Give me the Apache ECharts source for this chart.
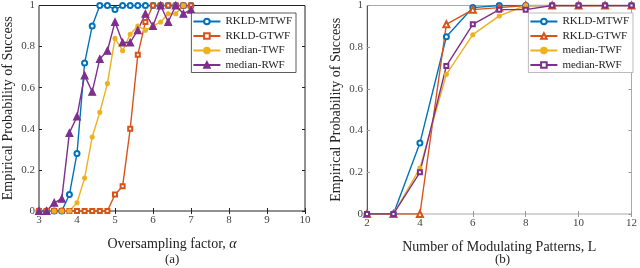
<!DOCTYPE html>
<html><head><meta charset="utf-8">
<script src="https://cdn.jsdelivr.net/npm/echarts@6/dist/echarts.min.js"></script>
<style>html,body{margin:0;padding:0;background:#fff}#c{width:640px;height:268px}</style>
</head><body><div id="c"></div>
<script>
// Panel (a)
const alphaX = [3,3.2,3.4,3.6,3.8,4,4.2,4.4,4.6,4.8,5,5.2,5.4,5.6,5.8,6,6.2,6.4,6.6,6.8,7];
const aMTWF = [0,0,0,0,0.08,0.28,0.72,0.9,1,1,0.98,1,1,1,1,1,1,1,1,1,1];
const aGTWF = [0,0,0,0,0,0,0,0,0,0,0.08,0.12,0.4,0.76,0.92,1,1,1,1,1,1];
const aTWF  = [0,0,0,0,0,0.04,0.16,0.36,0.48,0.62,0.84,0.78,0.86,0.9,0.88,0.9,0.92,0.96,0.96,1,0.98];
const aRWF  = [0,0,0.04,0.06,0.38,0.46,0.66,0.58,0.74,0.78,0.92,0.82,0.82,0.88,0.96,0.9,1,0.92,1,0.96,0.98];
// Panel (b)
const LX = [2,3,4,5,6,7,8,9,10,11,12];
const bMTWF = [0,0,0.34,0.85,0.99,1,1,1,1,1,1];
const bGTWF = [0,0,0,0.91,0.98,0.99,1,1,1,1,1];
const bTWF  = [0,0,0.22,0.67,0.86,0.95,1,1,1,1,1];
const bRWF  = [0,0,0.2,0.71,0.91,0.98,0.98,1,1,1,1];
const names = ['RKLD-MTWF','RKLD-GTWF','median-TWF','median-RWF'];

const C = ['#0072BD','#D95319','#EDB120','#7E2F8E'];
const F = '"Liberation Serif", "Times New Roman", serif';
const zip = (xs, ys) => xs.map((x,i)=>[x, ys[i]]);

function mk(name, xi, data, color, symbol, size){
  return {name, type:'line', xAxisIndex:xi, yAxisIndex:xi, data, symbol, symbolSize:size,
    showSymbol:true, lineStyle:{color, width:1.4}, itemStyle:{color, borderColor:color, borderWidth:1.1},
    animation:false, z:3};
}
const series = [
  mk(names[0],0,zip(alphaX,aMTWF),C[0],'emptyCircle',5),
  mk(names[1],0,zip(alphaX,aGTWF),C[1],'emptyRect',4),
  mk(names[2],0,zip(alphaX,aTWF),C[2],'circle',4),
  mk(names[3],0,zip(alphaX,aRWF),C[3],'triangle',7),
  mk('b:'+names[0],2,zip(LX,bMTWF),C[0],'emptyCircle',5),
  mk('b:'+names[1],2,zip(LX,bGTWF),C[1],'emptyTriangle',6),
  mk('b:'+names[2],2,zip(LX,bTWF),C[2],'circle',4),
  mk('b:'+names[3],2,zip(LX,bRWF),C[3],'emptyRect',4),
];

const lbl = {fontFamily:F, fontSize:11, color:'#444'};
const nameSt = {fontFamily:F, fontSize:14, color:'#222'};
function xAx(gi, min, max, interval, name, lineColor){
  return [{type:'value', gridIndex:gi, min, max, interval, position:'bottom',
    name, nameLocation:'middle', nameGap:26, nameTextStyle:nameSt,
    axisLine:{show:false}, axisTick:{inside:true, length:3, lineStyle:{color:lineColor}},
    axisLabel:{...lbl, margin:4}, splitLine:{show:false}},
   {type:'value', gridIndex:gi, min, max, interval, position:'top',
    axisLine:{show:false}, axisTick:{inside:true, length:3, lineStyle:{color:lineColor}},
    axisLabel:{show:false}, splitLine:{show:false}}];
}
function yAx(gi, lineColor, axisLineColor){
  return [{type:'value', gridIndex:gi, min:0, max:1, interval:0.2, position:'left',
    name:'Empirical Probability of Success', nameLocation:'middle', nameGap:24, nameTextStyle:nameSt,
    axisLine:{show:!!axisLineColor, lineStyle:{color:axisLineColor||'#222', width:1}},
    axisTick:{inside:true, length:3, lineStyle:{color:lineColor}},
    axisLabel:{...lbl, margin:4, formatter:v=>String(+v.toFixed(1))}, splitLine:{show:false}},
   {type:'value', gridIndex:gi, min:0, max:1, interval:0.2, position:'right',
    axisLine:{show:false}, axisTick:{inside:true, length:3, lineStyle:{color:lineColor}},
    axisLabel:{show:false}, splitLine:{show:false}}];
}
const xa = [...xAx(0,3,10,1,'Oversampling factor, {i|α}','#222'), ...xAx(1,2,12,2,'Number of Modulating Patterns, L','#999')];
xa[0].nameTextStyle = {...nameSt, rich:{i:{fontFamily:F, fontSize:14, fontStyle:'italic', color:'#222'}}};
const ya = [...yAx(0,'#222'), ...yAx(1,'#999','#555')];

function legend(list, right, top, prefix, bc){
  return {show:true, orient:'vertical', right, top, data:list.map(n=>prefix+n),
    formatter:n=>'{t|'+n.replace(/^b:/,'')+'}', itemWidth:27, itemHeight:7, itemGap:3.5,
    textStyle:{fontFamily:F, fontSize:11, color:'#222',
      rich:{t:{fontFamily:F, fontSize:11, color:'#222'}}}, padding:[3,4,2,1],
    borderColor:bc, borderWidth:0.8, backgroundColor:'#fff', selectedMode:false};
}

const chart = echarts.init(document.getElementById('c'), null, {renderer:'canvas'});
chart.setOption({
  animation:false,
  textStyle:{fontFamily:F},
  grid:[
    {left:36, top:5, width:269, height:206, show:true, borderColor:'#222', borderWidth:1, backgroundColor:'transparent'},
    {left:367, top:5, width:268, height:209, show:true, borderColor:'#aaa', borderWidth:1, backgroundColor:'transparent'}
  ],
  xAxis: xa, yAxis: ya,
  legend:[legend(names, 640-296, 13, '', '#333'), legend(names, 7, 13, 'b:', '#aaa')],
  series,
  graphic:[
    {type:'text', left:165, top:253, style:{text:'(a)', font:'13px "Liberation Serif"', fill:'#222'}},
    {type:'text', left:495, top:253, style:{text:'(b)', font:'13px "Liberation Serif"', fill:'#222'}}
  ]
});
</script></body></html>
